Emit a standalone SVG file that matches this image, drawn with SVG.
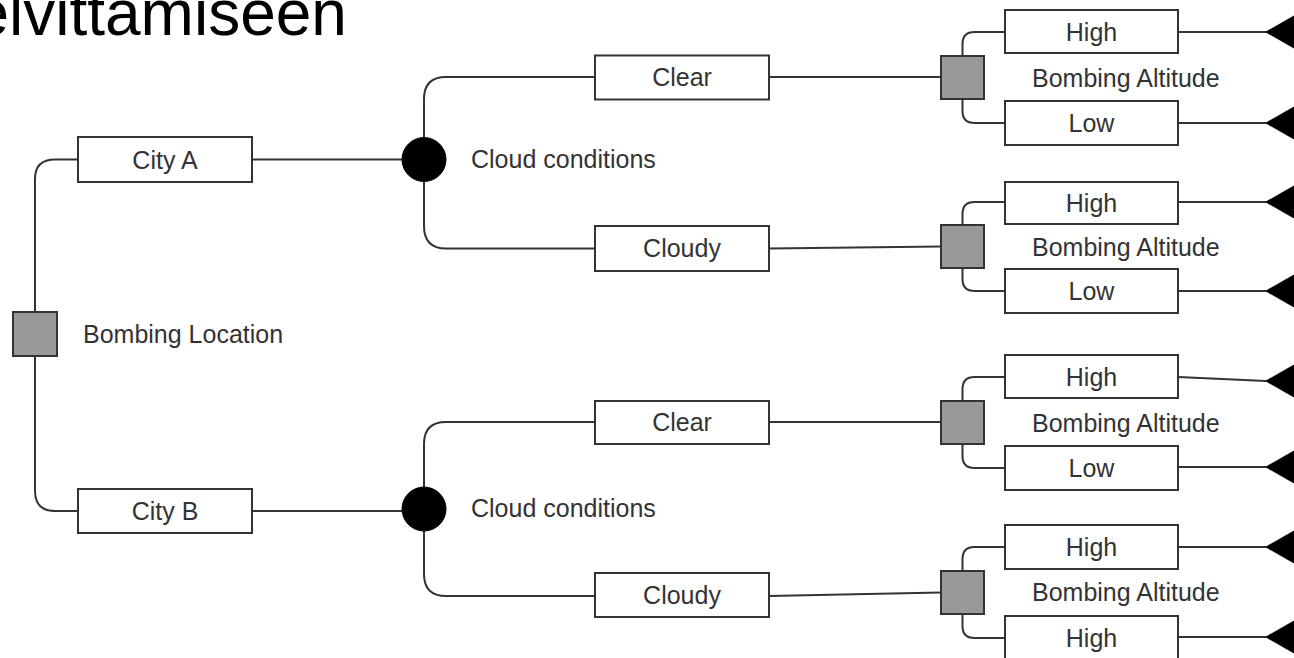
<svg xmlns="http://www.w3.org/2000/svg" width="1294" height="658" viewBox="0 0 1294 658">
<style>
  .box { fill: #ffffff; stroke: #333333; stroke-width: 2; }
  .dec { fill: #999999; stroke: #333333; stroke-width: 2; }
  .chance { fill: #000000; stroke: #000000; stroke-width: 1; }
  .end { fill: #000000; }
  .lbl { font-family: "Liberation Sans", Arial, sans-serif; font-size: 25px; fill: #333333; }
  .mid { text-anchor: middle; }
  .title { font-family: "Liberation Sans", Arial, sans-serif; font-size: 64px; fill: #000000; }
  .conn path { fill: none; stroke: #333333; stroke-width: 2; }
</style>
<rect width="1294" height="658" fill="#ffffff"/>
<text class="title" x="-26.6" y="35">elvittamiseen</text>

<g class="conn" id="connectors">
  <path d="M35,312 V179 Q35,159.5 55,159.5 H78"/>
  <path d="M35,356 V491 Q35,511 55,511 H78"/>
  <path d="M252,159.5 H402"/>
  <path d="M252,511 H402"/>
  <path d="M424,137.5 V99 Q424,77 446,77 H595"/>
  <path d="M424,181.5 V226 Q424,248.5 446,248.5 H595"/>
  <path d="M424,487 V444 Q424,422 446,422 H595"/>
  <path d="M424,531 V574 Q424,596 446,596 H595"/>
  <path d="M769,77 H941"/>
  <path d="M769,248.5 L941,246.5"/>
  <path d="M769,422 H941"/>
  <path d="M769,596 L941,592.5"/>
  <path d="M962.5,56 V44 Q962.5,32 974.5,32 H1005"/>
  <path d="M962.5,99 V111 Q962.5,123 974.5,123 H1005"/>
  <path d="M962.5,225 V214 Q962.5,202 974.5,202 H1005"/>
  <path d="M962.5,268 V279 Q962.5,291 974.5,291 H1005"/>
  <path d="M962.5,401 V389 Q962.5,377 974.5,377 H1005"/>
  <path d="M962.5,444 V456 Q962.5,468 974.5,468 H1005"/>
  <path d="M962.5,571 V559 Q962.5,547 974.5,547 H1005"/>
  <path d="M962.5,614 V626 Q962.5,638 974.5,638 H1005"/>
  <path d="M1178,32 H1266"/>
  <path d="M1178,123 H1266"/>
  <path d="M1178,202 H1266"/>
  <path d="M1178,291 H1266"/>
  <path d="M1178,377 L1266,381"/>
  <path d="M1178,467 H1266"/>
  <path d="M1178,547 H1266"/>
  <path d="M1178,637 H1266"/>
</g>

<g id="bombing-location">
  <rect class="dec" x="13" y="312" width="44" height="44"/>
  <text class="lbl" x="83" y="343">Bombing Location</text>
</g>

<g id="city-a">
  <rect class="box" x="78" y="137" width="174" height="45"/>
  <text class="lbl mid" x="165" y="168.5">City A</text>
</g>
<g id="city-b">
  <rect class="box" x="78" y="489" width="174" height="44"/>
  <text class="lbl mid" x="165" y="520">City B</text>
</g>

<g id="cloud-a">
  <circle class="chance" cx="424" cy="159.5" r="22"/>
  <text class="lbl" x="471" y="168">Cloud conditions</text>
</g>
<g id="cloud-b">
  <circle class="chance" cx="424" cy="509" r="22"/>
  <text class="lbl" x="471" y="517">Cloud conditions</text>
</g>

<g id="clear-a">
  <rect class="box" x="595" y="55.5" width="174" height="44"/>
  <text class="lbl mid" x="682" y="86">Clear</text>
</g>
<g id="cloudy-a">
  <rect class="box" x="595" y="226" width="174" height="45"/>
  <text class="lbl mid" x="682" y="257">Cloudy</text>
</g>
<g id="clear-b">
  <rect class="box" x="595" y="401" width="174" height="43"/>
  <text class="lbl mid" x="682" y="431">Clear</text>
</g>
<g id="cloudy-b">
  <rect class="box" x="595" y="573" width="174" height="44"/>
  <text class="lbl mid" x="682" y="604">Cloudy</text>
</g>

<g id="altitude-1">
  <rect class="dec" x="941" y="56" width="43" height="43"/>
  <text class="lbl" x="1032" y="87">Bombing Altitude</text>
</g>
<g id="altitude-2">
  <rect class="dec" x="941" y="225" width="43" height="43"/>
  <text class="lbl" x="1032" y="256">Bombing Altitude</text>
</g>
<g id="altitude-3">
  <rect class="dec" x="941" y="401" width="43" height="43"/>
  <text class="lbl" x="1032" y="432">Bombing Altitude</text>
</g>
<g id="altitude-4">
  <rect class="dec" x="941" y="571" width="43" height="43"/>
  <text class="lbl" x="1032" y="601">Bombing Altitude</text>
</g>

<g id="high-1"><rect class="box" x="1005" y="10" width="173" height="43"/><text class="lbl mid" x="1091.5" y="40.5">High</text></g>
<g id="low-1"><rect class="box" x="1005" y="101" width="173" height="44"/><text class="lbl mid" x="1091.5" y="132">Low</text></g>
<g id="high-2"><rect class="box" x="1005" y="182" width="173" height="42"/><text class="lbl mid" x="1091.5" y="212">High</text></g>
<g id="low-2"><rect class="box" x="1005" y="269" width="173" height="44"/><text class="lbl mid" x="1091.5" y="300">Low</text></g>
<g id="high-3"><rect class="box" x="1005" y="355" width="173" height="43"/><text class="lbl mid" x="1091.5" y="386">High</text></g>
<g id="low-3"><rect class="box" x="1005" y="446" width="173" height="44"/><text class="lbl mid" x="1091.5" y="477">Low</text></g>
<g id="high-4"><rect class="box" x="1005" y="525" width="173" height="44"/><text class="lbl mid" x="1091.5" y="556">High</text></g>
<g id="high-5"><rect class="box" x="1005" y="616" width="173" height="44"/><text class="lbl mid" x="1091.5" y="647">High</text></g>

<g id="end-1"><polygon class="end" points="1265,32 1300,12 1300,52"/></g>
<g id="end-2"><polygon class="end" points="1265,123 1300,103 1300,143"/></g>
<g id="end-3"><polygon class="end" points="1265,202 1300,182 1300,222"/></g>
<g id="end-4"><polygon class="end" points="1265,291 1300,271 1300,311"/></g>
<g id="end-5"><polygon class="end" points="1265,381 1300,361 1300,401"/></g>
<g id="end-6"><polygon class="end" points="1265,467 1300,447 1300,487"/></g>
<g id="end-7"><polygon class="end" points="1265,547 1300,527 1300,567"/></g>
<g id="end-8"><polygon class="end" points="1265,637 1300,617 1300,657"/></g>
</svg>
